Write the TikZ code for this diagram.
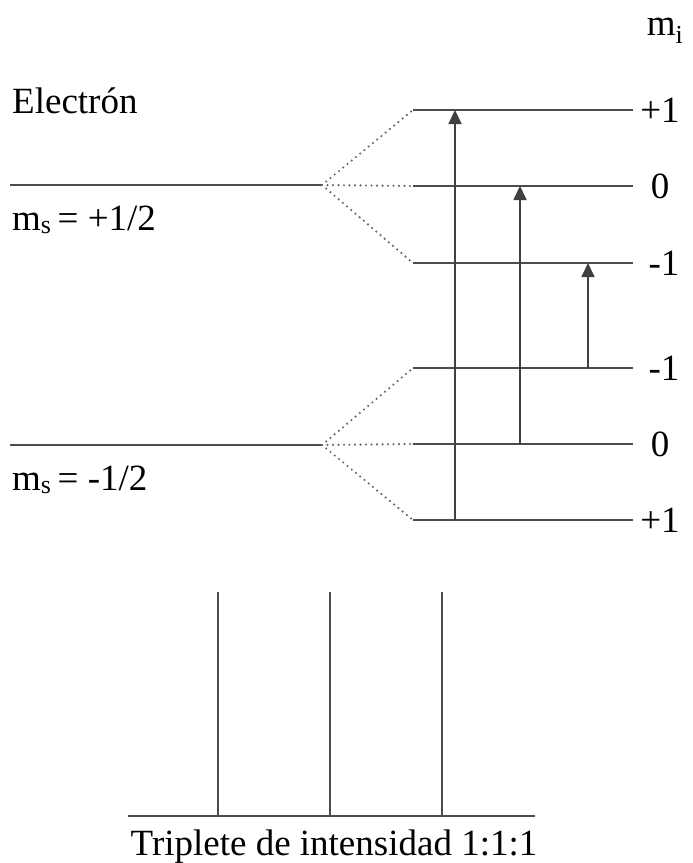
\documentclass[tikz,border=0pt]{standalone}
\usepackage{fontspec}
\setmainfont{Liberation Serif}
\usetikzlibrary{arrows.meta}
\tikzset{
  level/.style={line width=1.8pt, draw=black!70},
  split/.style={line width=2.4pt, draw=black!60, dash pattern=on 0pt off 5.5pt, line cap=round},
  trans/.style={line width=1.8pt, draw=black!75, -{Triangle[length=14pt,width=13pt]}},
  peak/.style={line width=1.8pt, draw=black!70},
  lbl/.style={font=\fontsize{37}{42}\selectfont, inner sep=0pt},
}
\def\xs{322}
\def\xa{413}
\def\xb{633}

\begin{document}
\begin{tikzpicture}[x=1pt,y=-1pt]
\useasboundingbox (0,0) rectangle (693,863);

%% ---- electron levels ----------------------------------------------------
\coordinate (upL) at (10,185);
\coordinate (upS) at (\xs,185);
\coordinate (loL) at (10,445);
\coordinate (loS) at (\xs,445);
\draw[level] (upL) -- (upS);
\draw[level] (loL) -- (loS);

\node[lbl, anchor=base west] (elec) at (12,113) {Electrón};
\node[lbl, anchor=base west] (msup) at (12,230) {m\textsubscript{s}\,= +1/2};
\node[lbl, anchor=base west] (mslo) at (12,490) {m\textsubscript{s}\,= -1/2};

%% ---- nuclear sublevels --------------------------------------------------
\foreach \n/\y/\t/\lx in {ap/110/+1/660, az/186/0/660, am/263/-1/664,
                          bm/368/-1/664, bz/444/0/660, bp/520/+1/660} {
  \coordinate (\n L) at (\xa,\y);
  \coordinate (\n R) at (\xb,\y);
  \draw[level] (\n L) -- (\n R);
  \node[lbl] (\n lbl) at (\lx,\y) {\t};
}
\node[lbl, anchor=base] (mi) at (665,35) {m\textsubscript{i}};

% splitting
\foreach \n in {ap,az,am}
  \draw[split] (upS) -- (\n L);
\foreach \n in {bm,bz,bp}
  \draw[split] (loS) -- (\n L);

% allowed transitions
\draw[trans] ([xshift=42pt]bpL) -- ([xshift=42pt]apL);
\draw[trans] ([xshift=107pt]bzL) -- ([xshift=107pt]azL);
\draw[trans] ([xshift=175pt]bmL) -- ([xshift=175pt]amL);

%% ---- spectrum -----------------------------------------------------------
\coordinate (base0) at (128,816);
\coordinate (base1) at (535,816);
\draw[level] (base0) -- (base1);
\foreach \x [count=\i] in {218,330,442} {
  \coordinate (pk\i b) at (\x,816);
  \coordinate (pk\i t) at (\x,592);
  \draw[peak] (pk\i b) -- (pk\i t);
}
\node[lbl, anchor=base] (trip) at (334,855) {Triplete de intensidad 1:1:1};

\end{tikzpicture}
\end{document}
